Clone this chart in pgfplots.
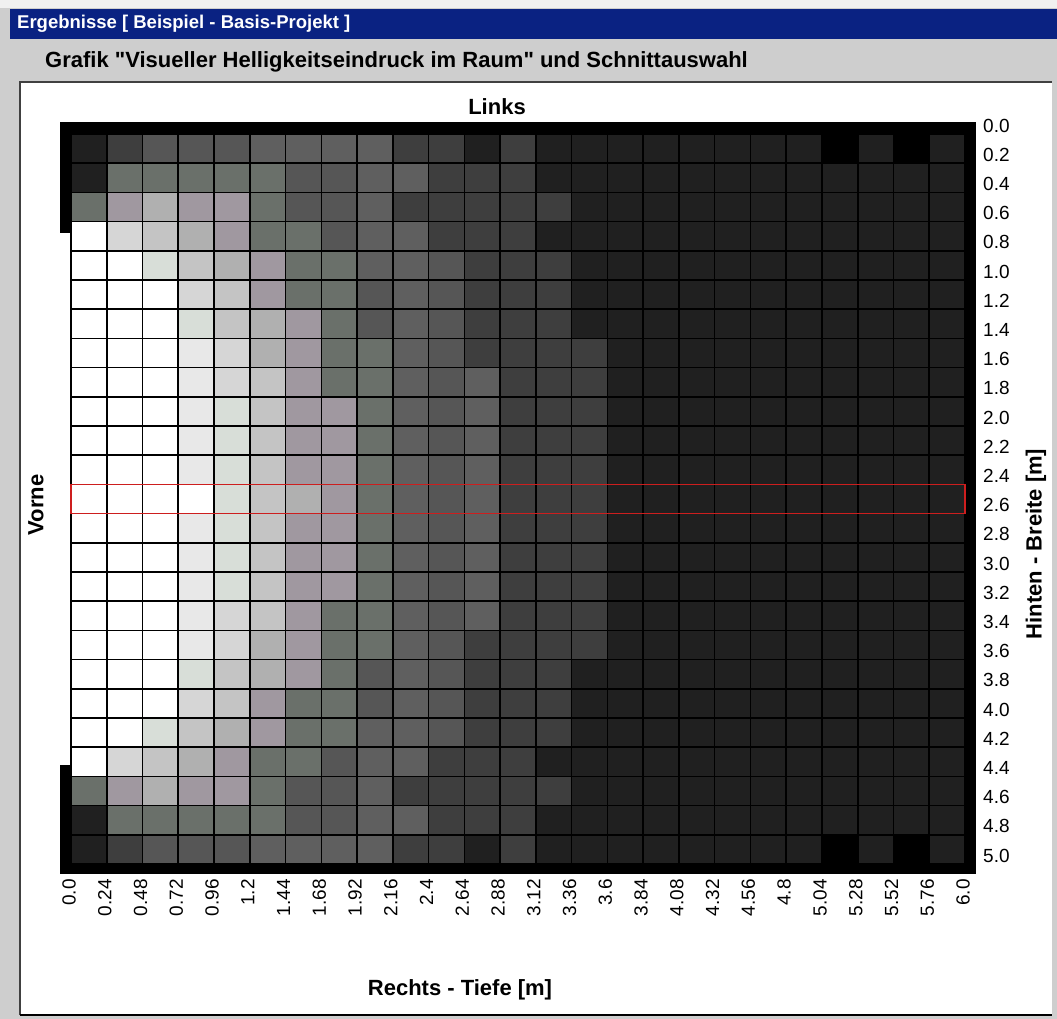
\documentclass[border=0pt]{standalone}
\usepackage{fontspec}
\setmainfont{Liberation Sans}[Ligatures=TeXOff]
\usepackage{pgfplots}
\pgfplotsset{compat=1.18}
\definecolor{winbg}{RGB}{206,206,206}
\definecolor{titlebar}{RGB}{10,34,130}
\definecolor{selred}{RGB}{205,30,30}
\begin{document}
\begin{tikzpicture}[x=1pt,y=1pt]
% window chrome
\fill[winbg] (0,0) rectangle (1057,-1019);
\fill[white!94!black] (0,0) rectangle (1057,-8);
\fill[titlebar] (10,-9) rectangle (1057,-39);
\node[anchor=west, text=white, inner sep=0pt, font=\bfseries\fontsize{18.5}{20}\selectfont] at (17,-24) {Ergebnisse [ Beispiel - Basis-Projekt ]};
\node[anchor=west, inner sep=0pt, font=\bfseries\fontsize{22}{24}\selectfont] at (45,-62) {Grafik "Visueller Helligkeitseindruck im Raum" und Schnittauswahl};
\fill[white] (20,-82) rectangle (1052,-1015);
\draw[black!75, line width=1.5pt] (20,-1015) -- (20,-82) -- (1052,-82);
\draw[black, line width=1.5pt] (20,-1015) -- (1052,-1015);
% outer labels
\node[font=\bfseries\fontsize{22}{24}\selectfont] at (497,-107) {Links};
\node[rotate=90, font=\bfseries\fontsize{22}{24}\selectfont] at (36,-505) {Vorne};
\node[rotate=90, font=\bfseries\fontsize{22}{24}\selectfont] at (1036,-544) {Hinten - Breite [m]};
\node[font=\bfseries\fontsize{22}{24}\selectfont] at (460,-990) {Rechts - Tiefe [m]};
\begin{axis}[
  at={(71pt,-134pt)}, anchor=north west,
  scale only axis, width=894pt, height=730pt,
  xmin=0, xmax=6, ymin=0, ymax=5, y dir=reverse,
  enlargelimits=false, clip=false,
  axis line style={draw=none}, major tick length=0pt,
  xtick={0,0.24,0.48,0.72,0.96,1.2,1.44,1.68,1.92,2.16,2.4,2.64,2.88,3.12,3.36,3.6,3.84,4.08,4.32,4.56,4.8,5.04,5.28,5.52,5.76,6.0},
  xticklabels={0.0,0.24,0.48,0.72,0.96,1.2,1.44,1.68,1.92,2.16,2.4,2.64,2.88,3.12,3.36,3.6,3.84,4.08,4.32,4.56,4.8,5.04,5.28,5.52,5.76,6.0},
  ytick={0,0.2,0.4,0.6,0.8,1.0,1.2,1.4,1.6,1.8,2.0,2.2,2.4,2.6,2.8,3.0,3.2,3.4,3.6,3.8,4.0,4.2,4.4,4.6,4.8,5.0},
  yticklabels={0.0,0.2,0.4,0.6,0.8,1.0,1.2,1.4,1.6,1.8,2.0,2.2,2.4,2.6,2.8,3.0,3.2,3.4,3.6,3.8,4.0,4.2,4.4,4.6,4.8,5.0},
  xticklabel pos=lower, yticklabel pos=upper,
  tick label style={font=\fontsize{19}{19}\selectfont, inner sep=0pt},
  xticklabel style={rotate=90, anchor=east, xshift=-15pt, yshift=2pt},
  yticklabel style={anchor=base west, xshift=18pt, yshift=2pt},
  colormap={hell}{rgb255=(0,0,0) rgb255=(32,32,32) rgb255=(62,62,62) rgb255=(86,86,86) rgb255=(95,95,95) rgb255=(106,112,106) rgb255=(160,152,160) rgb255=(176,176,176) rgb255=(196,196,196) rgb255=(216,222,216) rgb255=(214,214,214) rgb255=(232,232,232) rgb255=(255,255,255)},
  colormap access=direct,
]
\addplot[matrix plot*, mesh/cols=25, point meta=explicit, draw=black, line width=1.6pt]
  table[x=x, y=y, meta=c, row sep=\\] {
x y c\\
0.12 0.1 1\\ 0.36 0.1 2\\ 0.60 0.1 3\\ 0.84 0.1 3\\ 1.08 0.1 3\\ 1.32 0.1 4\\ 1.56 0.1 4\\ 1.80 0.1 4\\ 2.04 0.1 4\\ 2.28 0.1 2\\ 2.52 0.1 2\\ 2.76 0.1 1\\ 3.00 0.1 2\\ 3.24 0.1 1\\ 3.48 0.1 1\\ 3.72 0.1 1\\ 3.96 0.1 1\\ 4.20 0.1 1\\ 4.44 0.1 1\\ 4.68 0.1 1\\ 4.92 0.1 1\\ 5.16 0.1 0\\ 5.40 0.1 1\\ 5.64 0.1 0\\ 5.88 0.1 1\\
0.12 0.3 1\\ 0.36 0.3 5\\ 0.60 0.3 5\\ 0.84 0.3 5\\ 1.08 0.3 5\\ 1.32 0.3 5\\ 1.56 0.3 3\\ 1.80 0.3 3\\ 2.04 0.3 4\\ 2.28 0.3 4\\ 2.52 0.3 2\\ 2.76 0.3 2\\ 3.00 0.3 2\\ 3.24 0.3 1\\ 3.48 0.3 1\\ 3.72 0.3 1\\ 3.96 0.3 1\\ 4.20 0.3 1\\ 4.44 0.3 1\\ 4.68 0.3 1\\ 4.92 0.3 1\\ 5.16 0.3 1\\ 5.40 0.3 1\\ 5.64 0.3 1\\ 5.88 0.3 1\\
0.12 0.5 5\\ 0.36 0.5 6\\ 0.60 0.5 7\\ 0.84 0.5 6\\ 1.08 0.5 6\\ 1.32 0.5 5\\ 1.56 0.5 3\\ 1.80 0.5 3\\ 2.04 0.5 4\\ 2.28 0.5 2\\ 2.52 0.5 2\\ 2.76 0.5 2\\ 3.00 0.5 2\\ 3.24 0.5 2\\ 3.48 0.5 1\\ 3.72 0.5 1\\ 3.96 0.5 1\\ 4.20 0.5 1\\ 4.44 0.5 1\\ 4.68 0.5 1\\ 4.92 0.5 1\\ 5.16 0.5 1\\ 5.40 0.5 1\\ 5.64 0.5 1\\ 5.88 0.5 1\\
0.12 0.7 12\\ 0.36 0.7 10\\ 0.60 0.7 8\\ 0.84 0.7 7\\ 1.08 0.7 6\\ 1.32 0.7 5\\ 1.56 0.7 5\\ 1.80 0.7 3\\ 2.04 0.7 4\\ 2.28 0.7 4\\ 2.52 0.7 2\\ 2.76 0.7 2\\ 3.00 0.7 2\\ 3.24 0.7 1\\ 3.48 0.7 1\\ 3.72 0.7 1\\ 3.96 0.7 1\\ 4.20 0.7 1\\ 4.44 0.7 1\\ 4.68 0.7 1\\ 4.92 0.7 1\\ 5.16 0.7 1\\ 5.40 0.7 1\\ 5.64 0.7 1\\ 5.88 0.7 1\\
0.12 0.9 12\\ 0.36 0.9 12\\ 0.60 0.9 9\\ 0.84 0.9 8\\ 1.08 0.9 7\\ 1.32 0.9 6\\ 1.56 0.9 5\\ 1.80 0.9 5\\ 2.04 0.9 4\\ 2.28 0.9 4\\ 2.52 0.9 3\\ 2.76 0.9 2\\ 3.00 0.9 2\\ 3.24 0.9 2\\ 3.48 0.9 1\\ 3.72 0.9 1\\ 3.96 0.9 1\\ 4.20 0.9 1\\ 4.44 0.9 1\\ 4.68 0.9 1\\ 4.92 0.9 1\\ 5.16 0.9 1\\ 5.40 0.9 1\\ 5.64 0.9 1\\ 5.88 0.9 1\\
0.12 1.1 12\\ 0.36 1.1 12\\ 0.60 1.1 12\\ 0.84 1.1 10\\ 1.08 1.1 8\\ 1.32 1.1 6\\ 1.56 1.1 5\\ 1.80 1.1 5\\ 2.04 1.1 3\\ 2.28 1.1 4\\ 2.52 1.1 3\\ 2.76 1.1 2\\ 3.00 1.1 2\\ 3.24 1.1 2\\ 3.48 1.1 1\\ 3.72 1.1 1\\ 3.96 1.1 1\\ 4.20 1.1 1\\ 4.44 1.1 1\\ 4.68 1.1 1\\ 4.92 1.1 1\\ 5.16 1.1 1\\ 5.40 1.1 1\\ 5.64 1.1 1\\ 5.88 1.1 1\\
0.12 1.3 12\\ 0.36 1.3 12\\ 0.60 1.3 12\\ 0.84 1.3 9\\ 1.08 1.3 8\\ 1.32 1.3 7\\ 1.56 1.3 6\\ 1.80 1.3 5\\ 2.04 1.3 3\\ 2.28 1.3 4\\ 2.52 1.3 3\\ 2.76 1.3 2\\ 3.00 1.3 2\\ 3.24 1.3 2\\ 3.48 1.3 1\\ 3.72 1.3 1\\ 3.96 1.3 1\\ 4.20 1.3 1\\ 4.44 1.3 1\\ 4.68 1.3 1\\ 4.92 1.3 1\\ 5.16 1.3 1\\ 5.40 1.3 1\\ 5.64 1.3 1\\ 5.88 1.3 1\\
0.12 1.5 12\\ 0.36 1.5 12\\ 0.60 1.5 12\\ 0.84 1.5 11\\ 1.08 1.5 10\\ 1.32 1.5 7\\ 1.56 1.5 6\\ 1.80 1.5 5\\ 2.04 1.5 5\\ 2.28 1.5 4\\ 2.52 1.5 3\\ 2.76 1.5 2\\ 3.00 1.5 2\\ 3.24 1.5 2\\ 3.48 1.5 2\\ 3.72 1.5 1\\ 3.96 1.5 1\\ 4.20 1.5 1\\ 4.44 1.5 1\\ 4.68 1.5 1\\ 4.92 1.5 1\\ 5.16 1.5 1\\ 5.40 1.5 1\\ 5.64 1.5 1\\ 5.88 1.5 1\\
0.12 1.7 12\\ 0.36 1.7 12\\ 0.60 1.7 12\\ 0.84 1.7 11\\ 1.08 1.7 10\\ 1.32 1.7 8\\ 1.56 1.7 6\\ 1.80 1.7 5\\ 2.04 1.7 5\\ 2.28 1.7 4\\ 2.52 1.7 3\\ 2.76 1.7 4\\ 3.00 1.7 2\\ 3.24 1.7 2\\ 3.48 1.7 2\\ 3.72 1.7 1\\ 3.96 1.7 1\\ 4.20 1.7 1\\ 4.44 1.7 1\\ 4.68 1.7 1\\ 4.92 1.7 1\\ 5.16 1.7 1\\ 5.40 1.7 1\\ 5.64 1.7 1\\ 5.88 1.7 1\\
0.12 1.9 12\\ 0.36 1.9 12\\ 0.60 1.9 12\\ 0.84 1.9 11\\ 1.08 1.9 9\\ 1.32 1.9 8\\ 1.56 1.9 6\\ 1.80 1.9 6\\ 2.04 1.9 5\\ 2.28 1.9 4\\ 2.52 1.9 3\\ 2.76 1.9 4\\ 3.00 1.9 2\\ 3.24 1.9 2\\ 3.48 1.9 2\\ 3.72 1.9 1\\ 3.96 1.9 1\\ 4.20 1.9 1\\ 4.44 1.9 1\\ 4.68 1.9 1\\ 4.92 1.9 1\\ 5.16 1.9 1\\ 5.40 1.9 1\\ 5.64 1.9 1\\ 5.88 1.9 1\\
0.12 2.1 12\\ 0.36 2.1 12\\ 0.60 2.1 12\\ 0.84 2.1 11\\ 1.08 2.1 9\\ 1.32 2.1 8\\ 1.56 2.1 6\\ 1.80 2.1 6\\ 2.04 2.1 5\\ 2.28 2.1 4\\ 2.52 2.1 3\\ 2.76 2.1 4\\ 3.00 2.1 2\\ 3.24 2.1 2\\ 3.48 2.1 2\\ 3.72 2.1 1\\ 3.96 2.1 1\\ 4.20 2.1 1\\ 4.44 2.1 1\\ 4.68 2.1 1\\ 4.92 2.1 1\\ 5.16 2.1 1\\ 5.40 2.1 1\\ 5.64 2.1 1\\ 5.88 2.1 1\\
0.12 2.3 12\\ 0.36 2.3 12\\ 0.60 2.3 12\\ 0.84 2.3 11\\ 1.08 2.3 9\\ 1.32 2.3 8\\ 1.56 2.3 6\\ 1.80 2.3 6\\ 2.04 2.3 5\\ 2.28 2.3 4\\ 2.52 2.3 3\\ 2.76 2.3 4\\ 3.00 2.3 2\\ 3.24 2.3 2\\ 3.48 2.3 2\\ 3.72 2.3 1\\ 3.96 2.3 1\\ 4.20 2.3 1\\ 4.44 2.3 1\\ 4.68 2.3 1\\ 4.92 2.3 1\\ 5.16 2.3 1\\ 5.40 2.3 1\\ 5.64 2.3 1\\ 5.88 2.3 1\\
0.12 2.5 12\\ 0.36 2.5 12\\ 0.60 2.5 12\\ 0.84 2.5 12\\ 1.08 2.5 9\\ 1.32 2.5 8\\ 1.56 2.5 7\\ 1.80 2.5 6\\ 2.04 2.5 5\\ 2.28 2.5 4\\ 2.52 2.5 3\\ 2.76 2.5 4\\ 3.00 2.5 2\\ 3.24 2.5 2\\ 3.48 2.5 2\\ 3.72 2.5 1\\ 3.96 2.5 1\\ 4.20 2.5 1\\ 4.44 2.5 1\\ 4.68 2.5 1\\ 4.92 2.5 1\\ 5.16 2.5 1\\ 5.40 2.5 1\\ 5.64 2.5 1\\ 5.88 2.5 1\\
0.12 2.7 12\\ 0.36 2.7 12\\ 0.60 2.7 12\\ 0.84 2.7 11\\ 1.08 2.7 9\\ 1.32 2.7 8\\ 1.56 2.7 6\\ 1.80 2.7 6\\ 2.04 2.7 5\\ 2.28 2.7 4\\ 2.52 2.7 3\\ 2.76 2.7 4\\ 3.00 2.7 2\\ 3.24 2.7 2\\ 3.48 2.7 2\\ 3.72 2.7 1\\ 3.96 2.7 1\\ 4.20 2.7 1\\ 4.44 2.7 1\\ 4.68 2.7 1\\ 4.92 2.7 1\\ 5.16 2.7 1\\ 5.40 2.7 1\\ 5.64 2.7 1\\ 5.88 2.7 1\\
0.12 2.9 12\\ 0.36 2.9 12\\ 0.60 2.9 12\\ 0.84 2.9 11\\ 1.08 2.9 9\\ 1.32 2.9 8\\ 1.56 2.9 6\\ 1.80 2.9 6\\ 2.04 2.9 5\\ 2.28 2.9 4\\ 2.52 2.9 3\\ 2.76 2.9 4\\ 3.00 2.9 2\\ 3.24 2.9 2\\ 3.48 2.9 2\\ 3.72 2.9 1\\ 3.96 2.9 1\\ 4.20 2.9 1\\ 4.44 2.9 1\\ 4.68 2.9 1\\ 4.92 2.9 1\\ 5.16 2.9 1\\ 5.40 2.9 1\\ 5.64 2.9 1\\ 5.88 2.9 1\\
0.12 3.1 12\\ 0.36 3.1 12\\ 0.60 3.1 12\\ 0.84 3.1 11\\ 1.08 3.1 9\\ 1.32 3.1 8\\ 1.56 3.1 6\\ 1.80 3.1 6\\ 2.04 3.1 5\\ 2.28 3.1 4\\ 2.52 3.1 3\\ 2.76 3.1 4\\ 3.00 3.1 2\\ 3.24 3.1 2\\ 3.48 3.1 2\\ 3.72 3.1 1\\ 3.96 3.1 1\\ 4.20 3.1 1\\ 4.44 3.1 1\\ 4.68 3.1 1\\ 4.92 3.1 1\\ 5.16 3.1 1\\ 5.40 3.1 1\\ 5.64 3.1 1\\ 5.88 3.1 1\\
0.12 3.3 12\\ 0.36 3.3 12\\ 0.60 3.3 12\\ 0.84 3.3 11\\ 1.08 3.3 10\\ 1.32 3.3 8\\ 1.56 3.3 6\\ 1.80 3.3 5\\ 2.04 3.3 5\\ 2.28 3.3 4\\ 2.52 3.3 3\\ 2.76 3.3 4\\ 3.00 3.3 2\\ 3.24 3.3 2\\ 3.48 3.3 2\\ 3.72 3.3 1\\ 3.96 3.3 1\\ 4.20 3.3 1\\ 4.44 3.3 1\\ 4.68 3.3 1\\ 4.92 3.3 1\\ 5.16 3.3 1\\ 5.40 3.3 1\\ 5.64 3.3 1\\ 5.88 3.3 1\\
0.12 3.5 12\\ 0.36 3.5 12\\ 0.60 3.5 12\\ 0.84 3.5 11\\ 1.08 3.5 10\\ 1.32 3.5 7\\ 1.56 3.5 6\\ 1.80 3.5 5\\ 2.04 3.5 5\\ 2.28 3.5 4\\ 2.52 3.5 3\\ 2.76 3.5 2\\ 3.00 3.5 2\\ 3.24 3.5 2\\ 3.48 3.5 2\\ 3.72 3.5 1\\ 3.96 3.5 1\\ 4.20 3.5 1\\ 4.44 3.5 1\\ 4.68 3.5 1\\ 4.92 3.5 1\\ 5.16 3.5 1\\ 5.40 3.5 1\\ 5.64 3.5 1\\ 5.88 3.5 1\\
0.12 3.7 12\\ 0.36 3.7 12\\ 0.60 3.7 12\\ 0.84 3.7 9\\ 1.08 3.7 8\\ 1.32 3.7 7\\ 1.56 3.7 6\\ 1.80 3.7 5\\ 2.04 3.7 3\\ 2.28 3.7 4\\ 2.52 3.7 3\\ 2.76 3.7 2\\ 3.00 3.7 2\\ 3.24 3.7 2\\ 3.48 3.7 1\\ 3.72 3.7 1\\ 3.96 3.7 1\\ 4.20 3.7 1\\ 4.44 3.7 1\\ 4.68 3.7 1\\ 4.92 3.7 1\\ 5.16 3.7 1\\ 5.40 3.7 1\\ 5.64 3.7 1\\ 5.88 3.7 1\\
0.12 3.9 12\\ 0.36 3.9 12\\ 0.60 3.9 12\\ 0.84 3.9 10\\ 1.08 3.9 8\\ 1.32 3.9 6\\ 1.56 3.9 5\\ 1.80 3.9 5\\ 2.04 3.9 3\\ 2.28 3.9 4\\ 2.52 3.9 3\\ 2.76 3.9 2\\ 3.00 3.9 2\\ 3.24 3.9 2\\ 3.48 3.9 1\\ 3.72 3.9 1\\ 3.96 3.9 1\\ 4.20 3.9 1\\ 4.44 3.9 1\\ 4.68 3.9 1\\ 4.92 3.9 1\\ 5.16 3.9 1\\ 5.40 3.9 1\\ 5.64 3.9 1\\ 5.88 3.9 1\\
0.12 4.1 12\\ 0.36 4.1 12\\ 0.60 4.1 9\\ 0.84 4.1 8\\ 1.08 4.1 7\\ 1.32 4.1 6\\ 1.56 4.1 5\\ 1.80 4.1 5\\ 2.04 4.1 4\\ 2.28 4.1 4\\ 2.52 4.1 3\\ 2.76 4.1 2\\ 3.00 4.1 2\\ 3.24 4.1 2\\ 3.48 4.1 1\\ 3.72 4.1 1\\ 3.96 4.1 1\\ 4.20 4.1 1\\ 4.44 4.1 1\\ 4.68 4.1 1\\ 4.92 4.1 1\\ 5.16 4.1 1\\ 5.40 4.1 1\\ 5.64 4.1 1\\ 5.88 4.1 1\\
0.12 4.3 12\\ 0.36 4.3 10\\ 0.60 4.3 8\\ 0.84 4.3 7\\ 1.08 4.3 6\\ 1.32 4.3 5\\ 1.56 4.3 5\\ 1.80 4.3 3\\ 2.04 4.3 4\\ 2.28 4.3 4\\ 2.52 4.3 2\\ 2.76 4.3 2\\ 3.00 4.3 2\\ 3.24 4.3 1\\ 3.48 4.3 1\\ 3.72 4.3 1\\ 3.96 4.3 1\\ 4.20 4.3 1\\ 4.44 4.3 1\\ 4.68 4.3 1\\ 4.92 4.3 1\\ 5.16 4.3 1\\ 5.40 4.3 1\\ 5.64 4.3 1\\ 5.88 4.3 1\\
0.12 4.5 5\\ 0.36 4.5 6\\ 0.60 4.5 7\\ 0.84 4.5 6\\ 1.08 4.5 6\\ 1.32 4.5 5\\ 1.56 4.5 3\\ 1.80 4.5 3\\ 2.04 4.5 4\\ 2.28 4.5 2\\ 2.52 4.5 2\\ 2.76 4.5 2\\ 3.00 4.5 2\\ 3.24 4.5 2\\ 3.48 4.5 1\\ 3.72 4.5 1\\ 3.96 4.5 1\\ 4.20 4.5 1\\ 4.44 4.5 1\\ 4.68 4.5 1\\ 4.92 4.5 1\\ 5.16 4.5 1\\ 5.40 4.5 1\\ 5.64 4.5 1\\ 5.88 4.5 1\\
0.12 4.7 1\\ 0.36 4.7 5\\ 0.60 4.7 5\\ 0.84 4.7 5\\ 1.08 4.7 5\\ 1.32 4.7 5\\ 1.56 4.7 3\\ 1.80 4.7 3\\ 2.04 4.7 4\\ 2.28 4.7 4\\ 2.52 4.7 2\\ 2.76 4.7 2\\ 3.00 4.7 2\\ 3.24 4.7 1\\ 3.48 4.7 1\\ 3.72 4.7 1\\ 3.96 4.7 1\\ 4.20 4.7 1\\ 4.44 4.7 1\\ 4.68 4.7 1\\ 4.92 4.7 1\\ 5.16 4.7 1\\ 5.40 4.7 1\\ 5.64 4.7 1\\ 5.88 4.7 1\\
0.12 4.9 1\\ 0.36 4.9 2\\ 0.60 4.9 3\\ 0.84 4.9 3\\ 1.08 4.9 3\\ 1.32 4.9 4\\ 1.56 4.9 4\\ 1.80 4.9 4\\ 2.04 4.9 4\\ 2.28 4.9 2\\ 2.52 4.9 2\\ 2.76 4.9 1\\ 3.00 4.9 2\\ 3.24 4.9 1\\ 3.48 4.9 1\\ 3.72 4.9 1\\ 3.96 4.9 1\\ 4.20 4.9 1\\ 4.44 4.9 1\\ 4.68 4.9 1\\ 4.92 4.9 1\\ 5.16 4.9 0\\ 5.40 4.9 1\\ 5.64 4.9 0\\ 5.88 4.9 1\\
};
% room walls
\fill[black] (axis cs:-0.075,-0.08) rectangle (axis cs:6.075,0);
\fill[black] (axis cs:6,-0.08) rectangle (axis cs:6.075,5.07);
\fill[black] (axis cs:-0.075,5) rectangle (axis cs:6.075,5.07);
\fill[black] (axis cs:-0.075,-0.08) rectangle (axis cs:0,0.675);
\fill[black] (axis cs:-0.075,4.325) rectangle (axis cs:0,5.07);
% selected section
\draw[selred, line width=1.4pt] (axis cs:0,2.4) rectangle (axis cs:6,2.6);
\end{axis}
\end{tikzpicture}
\end{document}
